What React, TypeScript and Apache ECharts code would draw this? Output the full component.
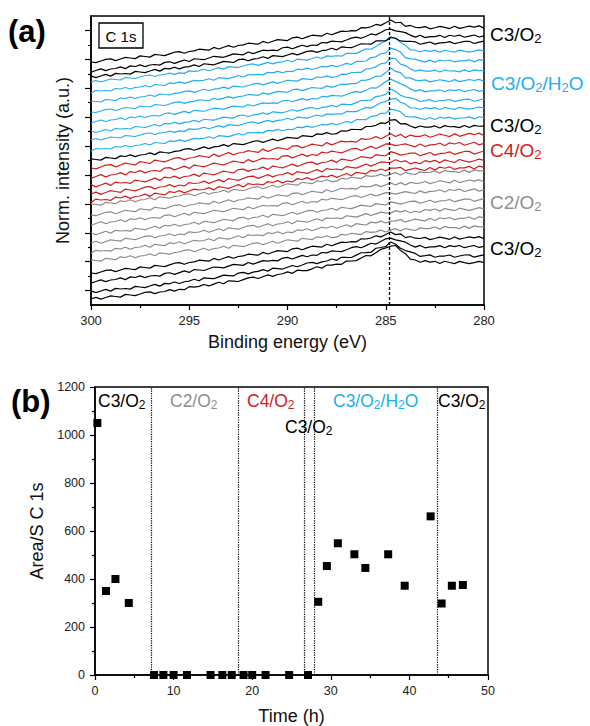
import React, { useEffect, useRef } from "react";
import * as echarts from "echarts";

const FONT = "'Liberation Sans', Arial, Helvetica, sans-serif";

// ---------- Panel (a): stacked C 1s spectra ----------
// sampling grid of binding energy (eV), 300 -> 280 in 0.25 eV steps
const energyGrid = Array.from({ length: 81 }, (_, k) => 300 - 0.25 * k);

// sloped background common to all spectra (height in plot units)
const background = [
  0, 0.5, 1, 1.5, 2, 2.5, 3, 3.5, 4, 4.5, 5, 5.5, 6, 6.5, 7, 7.5, 8, 8.5, 9, 9.5, 10,
  10.5, 11, 11.5, 12, 12.5, 13, 13.5, 14, 14.5, 15, 15.5, 16, 16.5, 17, 17.5, 18, 18.5, 19, 19.5, 20,
  20.5, 21, 21.5, 22, 22.5, 23, 23.5, 24,
  24.5, 25, 25.5, 26,
  26.5, 27, 27.5, 28,
  28.4, 28.8, 29.1, 29.5,
  29.9, 30.3, 30.6, 31,
  31.4, 31.8, 32.1, 32.5,
  32.8, 33, 33.3, 33.5,
  33.6, 33.8, 33.9, 34,
  34.1, 34.2, 34.4, 34.5,
];

// broad adventitious-carbon feature (peak at 284.75 eV)
const peakBroad = [
  0, 0, 0, 0, 0, 0, 0, 0, 0, 0, 0, 0, 0, 0, 0, 0,
  0.01, 0.02, 0.03, 0.04, 0.05,
  0.06, 0.07, 0.08, 0.09, 0.1, 0.11, 0.12, 0.13, 0.14, 0.15, 0.16, 0.17, 0.18, 0.19, 0.2, 0.21, 0.22, 0.23, 0.24, 0.25,
  0.26, 0.28, 0.29, 0.31, 0.32, 0.34, 0.35, 0.37,
  0.39, 0.41, 0.43, 0.45,
  0.48, 0.52, 0.56, 0.6,
  0.66, 0.73, 0.81, 0.9,
  1.0, 0.92, 0.75, 0.55,
  0.4, 0.3, 0.24, 0.2,
  0.17, 0.15, 0.14, 0.13,
  0.12, 0.11, 0.11, 0.1,
  0.1, 0.09, 0.09, 0.08,
];

// narrow feature at 284.75 eV
const peakNarrow = [
  0, 0, 0, 0, 0, 0, 0, 0, 0, 0, 0, 0, 0, 0, 0, 0, 0, 0, 0, 0,
  0, 0, 0, 0, 0, 0, 0, 0, 0, 0, 0, 0, 0, 0, 0, 0, 0, 0, 0, 0,
  0, 0, 0, 0, 0, 0, 0, 0, 0, 0, 0, 0,
  0.02,
  0.05, 0.09, 0.14, 0.2,
  0.28, 0.38, 0.52, 0.72,
  1.0, 0.85, 0.55, 0.25, 0.05, -0.08, -0.15, -0.2,
  -0.22, -0.24, -0.25, -0.26, -0.27, -0.28, -0.28, -0.29, -0.29, -0.3, -0.3, -0.3,
];

// measurement noise rows (plot units)
const noiseRows = [
  [0, 1, -1, 0, 1, 0, -1, 1, 0, -1, 0, 1, 1, -1, 0, 0, 1, -1, 0, -1, 1, 0, 0, 1, -1, 0, 1, -1, 1, 0, -1, 0, 1, 1, -1, 0, 1, -1, 0, 0, 1, -1, 1, 0, -1, 0, 1, -1, 1, 0, 0, -1, 1, 0, -1, 0, 1, -1, 0, 1, 0, -1, 1, 0, 1, -1, 0, -1, 1, 0, 1, -1, 1, 0, -1, 1, 0, -1, 0, 1, 0],
  [1, -1, 0, 1, -1, 1, 0, 0, -1, 1, 0, -1, 0, 1, -1, 1, 0, 1, -1, 0, 0, 1, -1, 1, 0, -1, 0, 1, 0, -1, 1, 1, -1, 0, 0, 1, -1, 1, 0, -1, 0, 1, -1, 0, 1, 1, -1, 0, 0, 1, -1, 1, 0, -1, 0, 1, 0, -1, 1, 0, -1, 1, 0, -1, 0, 1, 1, -1, 0, 1, -1, 0, 0, 1, -1, 0, 1, 1, -1, 0, 1],
  [-1, 0, 1, -1, 0, 0, 1, -1, 1, 0, 1, -1, 0, 0, -1, 1, 1, -1, 0, 1, -1, 1, 0, -1, 0, 1, 0, -1, 0, 1, 0, -1, 1, -1, 0, 1, 0, 0, -1, 1, 1, -1, 0, 1, -1, 0, -1, 1, 0, 1, 0, -1, 0, 1, 1, -1, 0, 1, -1, 0, 1, 0, -1, 0, 1, 0, -1, 1, -1, 0, 0, 1, -1, 1, 0, 1, -1, 0, 1, -1, 0],
  [0, -1, 0, 1, 1, -1, 0, 1, 0, -1, 1, 0, -1, 1, 0, -1, 0, 1, 1, -1, 0, 0, 1, 0, -1, 1, -1, 0, 1, -1, 0, 0, 1, 0, -1, 1, -1, 0, 1, 0, -1, 1, 1, -1, 0, 1, 0, -1, 1, -1, 0, 1, 0, 0, -1, 1, 0, 0, 1, -1, 0, 1, -1, 1, -1, 1, 0, 0, 1, -1, 0, 1, 0, -1, 1, -1, 0, 1, 0, 1, -1],
  [1, 0, -1, 1, 0, -1, 1, 0, 1, -1, 0, 0, 1, -1, 1, 0, -1, 0, 0, 1, 1, -1, 0, 1, -1, 0, 0, 1, -1, 1, 0, -1, 0, 1, 1, -1, 0, 1, -1, 0, 1, 0, -1, 1, 0, -1, 1, 0, 1, -1, -1, 1, 0, 1, 0, -1, 1, 0, 0, 1, -1, 0, 1, -1, 1, 0, -1, 1, 0, 0, 1, -1, 1, 0, 0, -1, 1, -1, 1, 0, 0],
  [-1, 1, 0, 0, -1, 1, 0, 1, -1, 0, 0, 1, -1, 1, 0, -1, 1, 0, 1, -1, 0, 1, 0, 0, 1, -1, 1, 0, -1, 0, 1, -1, 1, 0, 0, -1, 1, 0, 1, -1, 0, -1, 1, 0, 1, -1, 0, 1, 0, 1, -1, 0, 1, -1, 1, 0, -1, 1, 0, 1, -1, 0, 0, 1, -1, 0, 1, 0, -1, 1, -1, 1, 0, 1, -1, 0, 0, 1, -1, 1, 0],
];

// traces from bottom to top: b = black, g = gray, r = red, u = blue
const traceGroup = [
  "b", "b", "b", "b",
  "g", "g", "g", "g", "g", "g", "g",
  "r", "r", "r", "r", "r",
  "b",
  "u", "u", "u", "u", "u", "u", "u", "u",
  "b", "b", "b",
];
const traceOffset = [6, 13, 23, 32, 44, 53, 62, 71, 81, 90, 100, 104, 111, 119, 128, 137, 145, 155, 165, 173, 183, 193, 203, 213, 223, 228, 234, 243];
const traceBroad = [24, 19, 14, 10, 0, 0, 0, 0, 0, 0, 0, 0, 0, 0, 0, 0, 6, 3, 3, 3, 3, 3, 3, 3, 3, 8, 11, 10];
const traceNarrow = [0, 0, 0, 0, 1, 1, 1, 1, 1, 1, 1, 3, 3, 3, 3, 3, 4, 8, 9, 9, 10, 10, 11, 11, 12, 1, 1, 1];

const groupColor: Record<string, string> = { b: "#000000", g: "#8a8a8a", r: "#d2201e", u: "#22aef0" };
const groupNoise: Record<string, number> = { b: 1.1, g: 1.2, r: 1.4, u: 1.0 };

const majorTicksA = [14.45, 43.35, 72.25, 101.15, 130.05, 158.95, 187.85, 216.75, 245.65, 274.55];
const minorTicksA = [28.9, 57.8, 86.7, 115.6, 144.5, 173.4, 202.3, 231.2, 260.1];
const peakEnergy = 284.8;

// ---------- Panel (b): Area / S C 1s vs time ----------
const timeH = [0.3, 1.4, 2.6, 4.3, 7.5, 8.7, 10.0, 11.7, 14.7, 16.2, 17.4, 18.9, 20.0, 21.7, 24.7, 27.1, 28.4, 29.5, 30.9, 33.0, 34.4, 37.3, 39.4, 42.7, 44.1, 45.4, 46.8];
const areaS = [1050, 350, 400, 300, 0, 0, 0, 0, 0, 0, 0, 0, 0, 0, 0, 0, 305, 454, 549, 503, 446, 503, 372, 661, 298, 372, 375];
const stepTimes = [7.1, 18.2, 26.6, 27.9, 43.5];

const BLACK = "#000000";
const GRAY_T = "#8f8f8f";
const RED_T = "#d2201e";
const BLUE_T = "#22aef0";

function richFor(color: string, size: number, sub: number) {
  return {
    n: { fontSize: size, fill: color, fontFamily: FONT, lineHeight: size + 3, verticalAlign: "middle" },
    s: { fontSize: sub, fill: color, fontFamily: FONT, lineHeight: sub, verticalAlign: "bottom" },
  };
}

function chemLabel(x: number, y: number, text: string, color: string, size: number, sub: number) {
  return {
    type: "text",
    x,
    y,
    silent: true,
    style: {
      text,
      rich: richFor(color, size, sub),
      fill: color,
      font: `${size}px ${FONT}`,
      align: "left",
      verticalAlign: "middle",
      textAlign: "left",
      textVerticalAlign: "middle",
    },
  };
}

const C3O2 = "{n|C3/O}{s|2}";
const C2O2 = "{n|C2/O}{s|2}";
const C4O2 = "{n|C4/O}{s|2}";
const C3O2H2O = "{n|C3/O}{s|2}{n|/H}{s|2}{n|O}";

export default function App() {
  const ref = useRef<HTMLDivElement>(null);

  useEffect(() => {
    if (!ref.current) return;
    const chart = echarts.init(ref.current, undefined, { renderer: "svg" });

    const axisLine = { show: true, onZero: false, lineStyle: { color: "#000", width: 1.5 } };
    const tickStyle = { color: "#000", width: 1.2 };

    const seriesA: any[] = traceOffset.map((off, i) => {
      const g = traceGroup[i];
      const row = noiseRows[i % noiseRows.length];
      const s: any = {
        type: "line",
        xAxisIndex: 0,
        yAxisIndex: 0,
        symbol: "none",
        showSymbol: false,
        silent: true,
        lineStyle: { color: groupColor[g], width: 1.2 },
        data: energyGrid.map((e, k) => [
          e,
          off + background[k] + traceBroad[i] * peakBroad[k] + traceNarrow[i] * peakNarrow[k] + groupNoise[g] * row[k],
        ]),
      };
      if (i === traceOffset.length - 1) {
        s.markLine = {
          silent: true,
          symbol: ["none", "none"],
          label: { show: false },
          lineStyle: { color: "#000", width: 1.3, type: [3, 2] },
          data: [{ xAxis: peakEnergy }],
        };
      }
      return s;
    });

    const option: any = {
      animation: false,
      backgroundColor: "#ffffff",
      grid: [
        { left: 91, top: 16, width: 393, height: 289, show: true, borderColor: "#000", borderWidth: 1.5 },
        { left: 95, top: 387, width: 393, height: 290, show: true, borderColor: "#000", borderWidth: 1.5 },
      ],
      xAxis: [
        {
          gridIndex: 0,
          type: "value",
          min: 280,
          max: 300,
          interval: 5,
          inverse: true,
          axisLine,
          axisTick: { show: true, length: 5, lineStyle: tickStyle },
          minorTick: { show: true, splitNumber: 2, length: 3, lineStyle: tickStyle },
          splitLine: { show: false },
          minorSplitLine: { show: false },
          axisLabel: { fontSize: 13, color: "#222", margin: 9, fontFamily: FONT },
          name: "Binding energy (eV)",
          nameLocation: "middle",
          nameGap: 28,
          nameTextStyle: { fontSize: 18, color: "#111", fontFamily: FONT },
        },
        {
          gridIndex: 1,
          type: "value",
          min: 0,
          max: 50,
          interval: 10,
          axisLine,
          axisTick: { show: true, length: 5, lineStyle: tickStyle },
          minorTick: { show: true, splitNumber: 2, length: 3, lineStyle: tickStyle },
          splitLine: { show: false },
          minorSplitLine: { show: false },
          axisLabel: { fontSize: 12.5, color: "#222", margin: 9, fontFamily: FONT },
          name: "Time (h)",
          nameLocation: "middle",
          nameGap: 32,
          nameTextStyle: { fontSize: 18, color: "#111", fontFamily: FONT },
        },
      ],
      yAxis: [
        {
          gridIndex: 0,
          type: "value",
          min: 0,
          max: 289,
          axisLine,
          axisTick: { show: true, length: 6, customValues: majorTicksA, lineStyle: tickStyle },
          axisLabel: { show: false },
          splitLine: { show: false },
          name: "Norm. intensity (a.u.)",
          nameLocation: "middle",
          nameGap: 19,
          nameTextStyle: { fontSize: 18, color: "#111", fontFamily: FONT },
        },
        {
          gridIndex: 0,
          type: "value",
          min: 0,
          max: 289,
          position: "left",
          axisLine: { show: false },
          axisTick: { show: true, length: 3, customValues: minorTicksA, lineStyle: tickStyle },
          axisLabel: { show: false },
          splitLine: { show: false },
        },
        {
          gridIndex: 1,
          type: "value",
          min: 0,
          max: 1200,
          interval: 200,
          axisLine,
          axisTick: { show: true, length: 5, lineStyle: tickStyle },
          minorTick: { show: true, splitNumber: 2, length: 3, lineStyle: tickStyle },
          splitLine: { show: false },
          minorSplitLine: { show: false },
          axisLabel: { fontSize: 12.5, color: "#222", margin: 10, fontFamily: FONT, formatter: (v: number) => String(v) },
          name: "Area/S C 1s",
          nameLocation: "middle",
          nameGap: 35,
          nameTextStyle: { fontSize: 18, color: "#111", fontFamily: FONT },
        },
      ],
      series: [
        ...seriesA,
        {
          type: "scatter",
          xAxisIndex: 1,
          yAxisIndex: 2,
          symbol: "rect",
          symbolSize: 8,
          silent: true,
          itemStyle: { color: "#000", opacity: 1 },
          data: timeH.map((t, i) => [t, areaS[i]]),
          markLine: {
            silent: true,
            symbol: ["none", "none"],
            label: { show: false },
            lineStyle: { color: "#000", width: 1.2, type: "dotted" },
            data: stepTimes.map((t) => ({ xAxis: t })),
          },
        },
      ],
      graphic: [
        { type: "text", x: 8, y: 31, silent: true, style: { text: "(a)", font: `bold 31px ${FONT}`, fill: "#000", verticalAlign: "middle", textVerticalAlign: "middle" } },
        { type: "text", x: 11, y: 401, silent: true, style: { text: "(b)", font: `bold 31px ${FONT}`, fill: "#000", verticalAlign: "middle", textVerticalAlign: "middle" } },
        { type: "rect", silent: true, shape: { x: 99, y: 23, width: 44, height: 25 }, style: { fill: "#fff", stroke: "#000", lineWidth: 1.3 } },
        { type: "text", x: 121, y: 36, silent: true, style: { text: "C 1s", font: `15px ${FONT}`, fill: "#000", align: "center", textAlign: "center", verticalAlign: "middle", textVerticalAlign: "middle" } },
        // panel (a) right-hand labels
        chemLabel(490, 34, C3O2, BLACK, 19, 13),
        chemLabel(491, 83, C3O2H2O, BLUE_T, 19, 13),
        chemLabel(490, 125, C3O2, BLACK, 19, 13),
        chemLabel(490, 150, C4O2, RED_T, 19, 13),
        chemLabel(490, 202, C2O2, GRAY_T, 19, 13),
        chemLabel(490, 248, C3O2, BLACK, 19, 13),
        // panel (b) region labels
        chemLabel(98, 401, C3O2, BLACK, 17.5, 12),
        chemLabel(170, 401, C2O2, GRAY_T, 17.5, 12),
        chemLabel(247, 401, C4O2, RED_T, 17.5, 12),
        chemLabel(285, 427, C3O2, BLACK, 17.5, 12),
        chemLabel(333, 401, C3O2H2O, BLUE_T, 17.5, 12),
        chemLabel(438, 401, C3O2, BLACK, 17.5, 12),
      ],
    };

    chart.setOption(option);
    return () => chart.dispose();
  }, []);

  return <div ref={ref} style={{ position: "absolute", left: 0, top: 0, width: 590, height: 726, background: "#fff" }} />;
}
